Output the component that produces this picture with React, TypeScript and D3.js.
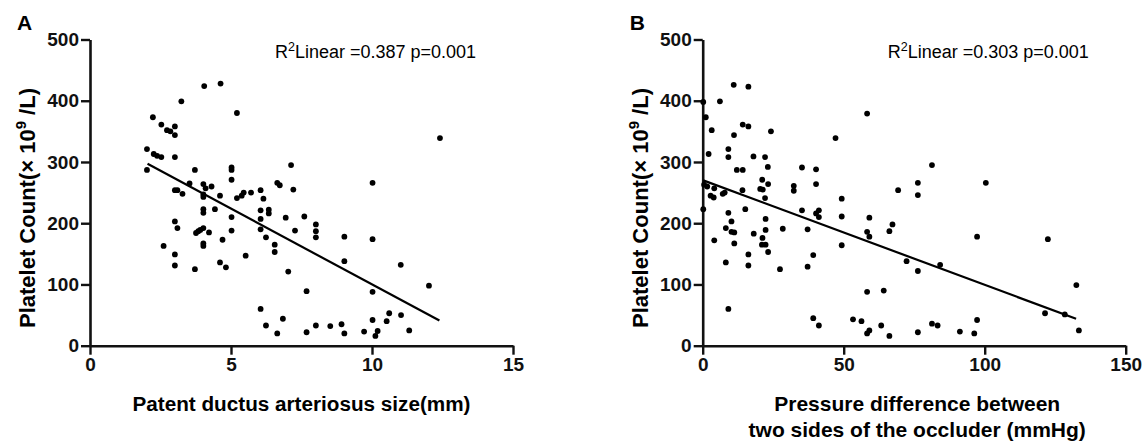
import React, { useEffect, useRef } from "react";
import * as d3 from "d3";

// panel A: PDA size (mm) vs platelet count
const pdaSize = [
  2.02, 2.02, 2.23, 2.26, 2.38, 2.53, 2.53, 2.73, 2.85, 3.01, 3.01, 3.01, 3.01, 3.1, 3.24, 3.28,
  3.01, 3.1, 2.61, 3.01, 3.01, 3.53, 3.72, 3.72, 4.05, 4.63, 4.02, 4.1, 4.02, 4.02, 4.31, 4.61,
  4.43, 4.02, 4.02, 3.76, 3.84, 3.91, 4.02, 4.22, 4.02, 4.02, 4.7, 4.61, 4.82, 5.02, 5.02, 5.02,
  5.02, 5.02, 5.21, 5.21, 5.38, 5.45, 5.52, 5.71, 6.05, 6.15, 6.05, 6.34, 6.34, 6.05, 6.05, 6.24,
  6.55, 6.55, 6.64, 6.73, 7.13, 7.21, 6.94, 7.27, 7.03, 7.6, 7.68, 6.05, 6.24, 6.64, 6.84, 7.68,
  8.01, 8.01, 8.01, 9.02, 9.02, 10.02, 10.02, 10.02, 10.02, 10.12, 10.2, 10.61, 10.52, 11.02, 11.03,
  11.32, 12.02, 12.41, 8.01, 8.52, 8.92, 9.02, 9.72,
];
const pdaPlatelet = [
  321, 287, 373, 313, 310, 308, 361, 352, 350, 358, 344, 308, 254, 254, 399, 248,
  203, 192, 163, 149, 131, 265, 287, 125, 424, 428, 264, 257, 247, 243, 260, 245,
  223, 223, 217, 184, 187, 189, 192, 185, 167, 163, 173, 136, 128, 291, 287, 271,
  210, 188, 380, 241, 245, 250, 147, 250, 254, 240, 221, 222, 216, 207, 190, 177,
  165, 153, 266, 262, 295, 255, 209, 188, 121, 211, 89, 60, 33, 20, 44, 22,
  198, 187, 177, 178, 138, 266, 174, 88, 42, 16, 24, 53, 40, 132, 50,
  25, 98, 339, 33, 32, 35, 20, 23,
];
const fitAx = [2.04, 12.39];
const fitAy = [297, 41];

// panel B: pressure difference (mmHg) vs platelet count
const pressureDiff = [
  0.2, 1.1, 6.1, 11.0, 16.2, 3.2, 14.2, 16.2, 11.1, 24.2, 2.1, 9.1, 9.1, 18.0, 22.1, 23.1,
  12.1, 14.2, 0.5, 1.6, 4.1, 2.8, 3.9, 7.1, 7.8, 14.1, 0.2, 21.1, 20.4, 21.3, 23.2, 22.1,
  15.1, 9.1, 10.2, 8.2, 10.2, 11.2, 11.2, 4.1, 22.3, 22.3, 18.1, 21.2, 21.0, 22.3, 23.2, 16.2,
  16.2, 8.2, 9.1, 32.3, 32.3, 28.4, 27.4, 35.2, 40.2, 40.2, 35.2, 40.2, 41.2, 41.2, 37.2, 39.2,
  37.2, 39.2, 41.2, 47.1, 49.3, 49.3, 49.3, 53.3, 56.3, 58.3, 59.1, 58.3, 59.1, 58.3, 58.3, 59.1,
  81.3, 76.3, 76.3, 69.3, 100.4, 67.3, 66.2, 97.3, 122.4, 72.3, 84.2, 76.3, 64.2, 63.3, 66.2, 76.3,
  81.3, 83.3, 91.2, 96.3, 97.3, 121.4, 128.4, 132.5, 133.4,
];
const pressurePlatelet = [
  398, 373, 399, 426, 423, 352, 361, 358, 344, 350, 313, 321, 308, 309, 308, 292,
  287, 287, 263, 260, 257, 245, 242, 248, 250, 254, 223, 271, 256, 255, 264, 241,
  223, 217, 203, 192, 186, 185, 167, 172, 207, 189, 183, 176, 165, 165, 153, 149,
  131, 136, 60, 261, 253, 191, 125, 291, 288, 264, 221, 216, 221, 210, 190, 148,
  129, 45, 33, 339, 240, 211, 164, 43, 40, 379, 209, 186, 178, 88, 20, 25,
  295, 266, 246, 254, 266, 198, 187, 178, 174, 138, 132, 122, 90, 33, 16, 22,
  36, 33, 23, 20, 42, 53, 51, 99, 25,
];
const fitBx = [0.2, 132.4];
const fitBy = [270, 44];

const yTicks = [0, 100, 200, 300, 400, 500];
const xTicksA = [0, 5, 10, 15];
const xTicksB = [0, 50, 100, 150];

const FONT = "'Liberation Sans', Arial, sans-serif";

function drawPanel(svg, opts) {
  const { left, xMax, xTicks, xs, ys, fx, fy, letter, r2, xLabel, xLabelSize } = opts;
  const top = 39.5,
    bottom = 345.7,
    width = 423;

  const g = svg.append("g");
  const x = d3.scaleLinear().domain([0, xMax]).range([left, left + width]);
  const y = d3.scaleLinear().domain([0, 500]).range([bottom, top]);

  const styleAxis = (sel) => {
    sel.select(".domain").attr("stroke", "#111").attr("stroke-width", 2.6);
    sel.selectAll(".tick line").attr("stroke", "#111").attr("stroke-width", 2.4);
    sel
      .selectAll(".tick text")
      .attr("fill", "#111")
      .style("font-family", FONT)
      .style("font-weight", "bold")
      .style("font-size", "19px");
  };

  g.append("g")
    .attr("transform", `translate(${left},0)`)
    .call(d3.axisLeft(y).tickValues(yTicks).tickSize(9).tickSizeOuter(0).tickPadding(2))
    .call(styleAxis);

  g.append("g")
    .attr("transform", `translate(0,${bottom})`)
    .call(d3.axisBottom(x).tickValues(xTicks).tickSize(9).tickSizeOuter(0).tickPadding(3))
    .call(styleAxis);

  g.selectAll("circle")
    .data(xs.map((v, i) => [v, ys[i]]))
    .join("circle")
    .attr("cx", (d) => x(d[0]))
    .attr("cy", (d) => y(d[1]))
    .attr("r", 2.9)
    .attr("fill", "#000");

  g.append("path")
    .attr("d", d3.line().x((d) => x(d[0])).y((d) => y(d[1]))(fx.map((v, i) => [v, fy[i]])))
    .attr("stroke", "#000")
    .attr("stroke-width", 2.2)
    .attr("fill", "none");

  // panel letter
  g.append("text")
    .attr("x", left - 73)
    .attr("y", 30)
    .text(letter)
    .style("font-family", FONT)
    .style("font-weight", "bold")
    .style("font-size", "21px");

  // y title
  const yt = g
    .append("text")
    .attr("transform", `translate(${left - 55},208) rotate(-90)`)
    .attr("text-anchor", "middle")
    .style("font-family", FONT)
    .style("font-weight", "bold")
    .style("font-size", "22px");
  yt.append("tspan").text("Platelet Count(× 10");
  yt.append("tspan").attr("dy", -9).style("font-size", "15px").text("9");
  yt.append("tspan").attr("dy", 9).text(" /L)");

  // r2 note
  const rt = g
    .append("text")
    .attr("x", left + 185)
    .attr("y", 58)
    .style("font-family", FONT)
    .style("font-size", "18px");
  rt.append("tspan").text("R");
  rt.append("tspan").attr("dy", -7).style("font-size", "12.5px").text("2");
  rt.append("tspan").attr("dy", 7).text(`Linear =${r2} p=0.001`);

  // x title
  const cx = left + width / 2 + (xLabel.length > 1 ? 3 : 0);
  xLabel.forEach((line, i) => {
    g.append("text")
      .attr("x", cx)
      .attr("y", 411 + i * 26)
      .attr("text-anchor", "middle")
      .text(line)
      .style("font-family", FONT)
      .style("font-weight", "bold")
      .style("font-size", xLabelSize);
  });
}

export default function App() {
  const ref = useRef(null);

  useEffect(() => {
    const svg = d3.select(ref.current);
    svg.selectAll("*").remove();
    svg.append("rect").attr("width", 1145).attr("height", 444).attr("fill", "#fff");

    drawPanel(svg, {
      left: 90,
      xMax: 15,
      xTicks: xTicksA,
      xs: pdaSize,
      ys: pdaPlatelet,
      fx: fitAx,
      fy: fitAy,
      letter: "A",
      r2: "0.387",
      xLabel: ["Patent ductus arteriosus size(mm)"],
      xLabelSize: "20.7px",
    });

    drawPanel(svg, {
      left: 702.7,
      xMax: 150,
      xTicks: xTicksB,
      xs: pressureDiff,
      ys: pressurePlatelet,
      fx: fitBx,
      fy: fitBy,
      letter: "B",
      r2: "0.303",
      xLabel: ["Pressure difference between", "two sides of the occluder (mmHg)"],
      xLabelSize: "21px",
    });
  }, []);

  return (
    <div style={{ position: "absolute", left: 0, top: 0 }}>
      <svg ref={ref} width={1145} height={444} style={{ display: "block" }}></svg>
    </div>
  );
}
